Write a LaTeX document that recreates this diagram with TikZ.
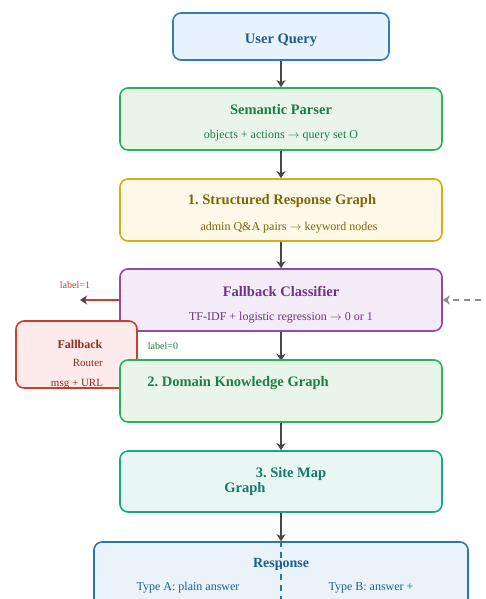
\documentclass[tikz,border=0pt]{standalone}
\usepackage{fontspec}
\setmainfont{Liberation Serif}
\usetikzlibrary{arrows.meta}
\frenchspacing
\newcommand{\rarr}{\ensuremath{\rightarrow}}
\definecolor{uqB}{HTML}{2E7DB8}\definecolor{uqF}{HTML}{E7F2FC}\definecolor{uqT}{HTML}{215C8A}
\definecolor{spB}{HTML}{2BB062}\definecolor{spF}{HTML}{EAF5EA}\definecolor{spT}{HTML}{1E7D46}
\definecolor{srB}{HTML}{D8AC12}\definecolor{srF}{HTML}{FEF8E8}\definecolor{srT}{HTML}{7D6608}
\definecolor{fcB}{HTML}{9049B0}\definecolor{fcF}{HTML}{F4ECF8}\definecolor{fcT}{HTML}{6C3483}
\definecolor{smB}{HTML}{1AA68A}\definecolor{smF}{HTML}{E8F6F4}\definecolor{smT}{HTML}{137A66}
\definecolor{rsB}{HTML}{2A76A8}\definecolor{rsF}{HTML}{EAF3FA}\definecolor{rsT}{HTML}{1F5F8C}
\definecolor{frB}{HTML}{C8402F}\definecolor{frF}{HTML}{FCEBEA}\definecolor{frT}{HTML}{922B21}
\definecolor{arrC}{HTML}{474747}\definecolor{dashC}{HTML}{8C8C8C}
\tikzset{
  box/.style={draw, line width=1.6pt, rounded corners=8pt, inner sep=0pt, minimum width=322pt, minimum height=62pt},
  ttl/.style={font=\fontsize{14.5}{17}\selectfont\bfseries, inner sep=0pt},
  sub/.style={font=\fontsize{12}{14}\selectfont, inner sep=0pt},
  small/.style={font=\fontsize{10}{12}\selectfont, inner sep=0pt},
  tip/.style={-{Stealth[length=7pt,width=9pt,inset=2pt]}},
  arr/.style={draw=arrC, line width=1.8pt, tip},
}
\begin{document}
\begin{tikzpicture}[x=1pt,y=-1pt]
\useasboundingbox (0,0) rectangle (486,599);
\clip (0,0) rectangle (486,599);
% User Query
\node[box, draw=uqB, fill=uqF, minimum width=216pt, minimum height=47pt] (uq) at (281,36.5) {};
\node[ttl, text=uqT] (uqt) at (281,40) {User Query};
% Semantic Parser
\node[box, draw=spB, fill=spF] (sp) at (281,119) {};
\node[ttl, text=spT] (spt) at (281,110) {Semantic Parser};
\node[sub, text=spT] (sps) at (281,135.5) {objects + actions \rarr\ query set O};
% Structured Response Graph
\node[box, draw=srB, fill=srF] (sr) at (281,210) {};
\node[ttl, text=srT] (srt) at (282,201) {1. Structured Response Graph};
\node[sub, text=srT] (srs) at (289,227.5) {admin Q\&A pairs \rarr\ keyword nodes};
% Fallback Classifier
\node[box, draw=fcB, fill=fcF] (fc) at (281,300) {};
\node[ttl, text=fcT] (fct) at (281,291) {Fallback Classifier};
\node[sub, text=fcT] (fcs) at (281,317.5) {TF-IDF + logistic regression \rarr\ 0 or 1};
% arrows between top boxes
\draw[arr] (uq.south) -- (sp.north);
\draw[arr] (sp.south) -- (sr.north);
\draw[arr] (sr.south) -- (fc.north);
% label=1 arrow
\coordinate (l1end) at (80,300);
\draw[draw=frB, line width=1.8pt, -{Stealth[length=7pt,width=9pt,inset=2pt,color=arrC]}] (fc.west) -- (l1end);
\node[small, text=frB] (l1) at (75,285) {label=1};
% dashed input
\coordinate (dstart) at (492,300);
\draw[draw=dashC, line width=1.8pt, dash pattern=on 6pt off 5pt, tip] (dstart) -- (fc.east);
% Fallback router
\node[box, draw=frB, fill=frF, minimum width=121pt, minimum height=67pt] (fr) at (76.5,354.5) {};
\node[font=\fontsize{12}{14}\selectfont\bfseries, inner sep=0pt, text=frT] (frt) at (80,344) {Fallback};
\node[font=\fontsize{11}{13}\selectfont, inner sep=0pt, text=frT, anchor=east] (frr) at (103,363) {Router};
\node[font=\fontsize{11}{13}\selectfont, inner sep=0pt, text=frT] (frm) at (77,384) {msg + URL};
\node[small, text=spT] (l0) at (163,346) {label=0};
\draw[arr] (fc.south) -- ++(0,29) coordinate (dtop);
% Domain Knowledge Graph
\node[box, draw=spB, fill=spF] (dk) at (281,391) {};
\node[ttl, text=spT] (dkt) at (238,383) {2. Domain Knowledge Graph};
% Site Map Graph
\node[box, draw=smB, fill=smF, minimum height=61pt] (sm) at (281,481.5) {};
\node[ttl, text=smT] (smt1) at (291,474) {3. Site Map};
\node[ttl, text=smT] (smt2) at (245,489.5) {Graph};
\draw[arr] (dk.south) -- (sm.north);
% Response
\node[box, draw=rsB, fill=rsF, minimum width=374pt, minimum height=90pt] (rs) at (281,587) {};
\draw[arr] (sm.south) -- (rs.north);
\coordinate (rsbot) at (281,605);
\draw[draw=rsB, line width=1.8pt, dash pattern=on 6pt off 5pt] (rs.north) -- (rsbot);
\node[ttl, text=rsT, font=\fontsize{14}{17}\selectfont\bfseries] (rst) at (281,564) {Response};
\node[sub, text=rsT] (rsa) at (188,587.5) {Type A: plain answer};
\node[sub, text=rsT] (rsb) at (371,587.5) {Type B: answer +};
\end{tikzpicture}
\end{document}
